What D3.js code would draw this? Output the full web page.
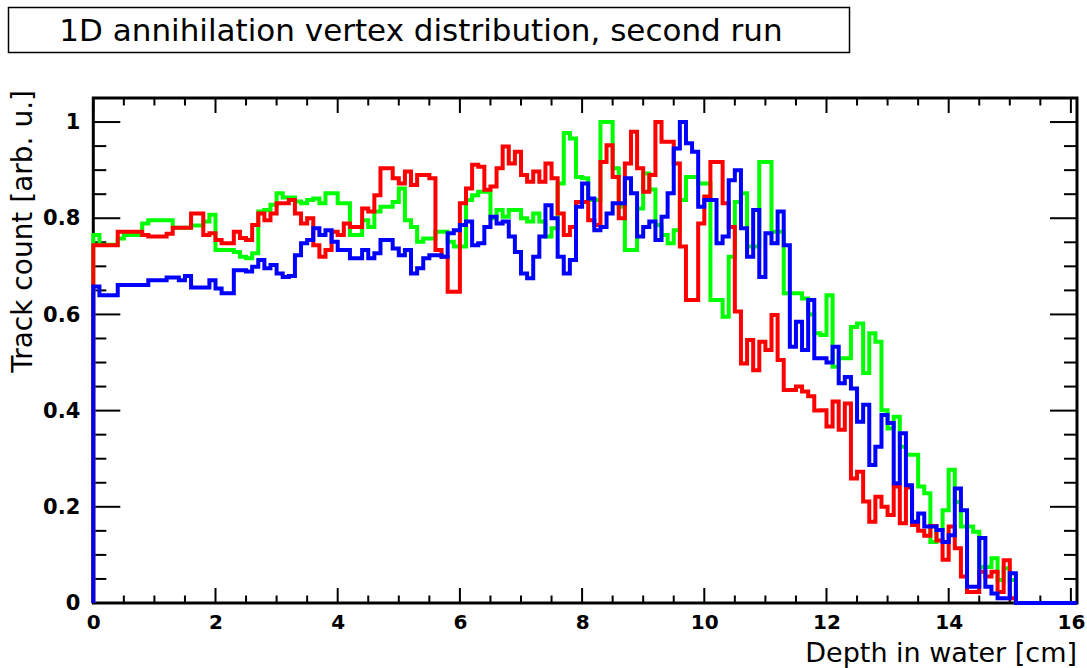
<!DOCTYPE html>
<html>
<head>
<meta charset="utf-8">
<script src="https://cdn.jsdelivr.net/npm/d3@7"></script>
<style>
  body { margin: 0; background: #fff; }
  text { font-family: "DejaVu Sans", sans-serif; }
</style>
</head>
<body>
<svg id="chart" width="1087" height="668"></svg>
<script>
// Histogram binning: 0.1 cm bins from 0 to 16.1 cm
const binWidth = 0.1;
const depthRange = [0, 16.1];

// Normalised track counts per bin (bins 0 .. 160)
const redCounts = [
  .744,.744,.744,.744,.772,.772,.772,.772,.765,.762,
  .762,.762,.768,.78,.78,.78,.81,.81,.765,.769,
  .755,.748,.748,.772,.759,.755,.786,.81,.796,.81,
  .831,.831,.838,.81,.789,.80,.744,.72,.734,.772,
  .765,.789,.782,.782,.82,.814,.848,.904,.904,.883,
  .872,.897,.869,.89,.89,.883,.734,.72,.647,.647,
  .831,.862,.911,.907,.859,.866,.904,.949,.914,.938,
  .89,.876,.897,.876,.914,.883,.81,.765,.782,.834,
  .834,.796,.786,.917,.952,.886,.80,.914,.98,.904,
  .855,.89,1.0,.959,.959,.914,.741,.63,.63,.789,
  .845,.917,.917,.831,.782,.606,.498,.547,.484,.543,
  .526,.599,.505,.443,.443,.45,.44,.43,.40,.401,
  .367,.419,.36,.415,.259,.273,.211,.169,.221,.20,
  .183,.242,.166,.24,.162,.15,.14,.16,.13,.09,
  .159,.114,.055,.023,.023,.065,.055,.065,.023,.089,
  .01,0,0,0,0,0,0,0,0,0,0
];
const greenCounts = [
  .765,.745,.745,.745,.758,.765,.765,.765,.789,.796,
  .796,.796,.796,.78,.78,.78,.785,.785,.793,.807,
  .734,.734,.734,.73,.72,.717,.727,.814,.817,.828,
  .852,.843,.843,.835,.831,.838,.841,.831,.852,.852,
  .831,.831,.765,.765,.796,.782,.814,.824,.824,.834,
  .862,.796,.782,.751,.758,.758,.772,.772,.751,.741,
  .741,.838,.848,.855,.855,.80,.817,.803,.817,.817,
  .80,.793,.81,.793,.762,.779,.872,.977,.966,.886,
  .883,.838,.838,1.0,1.0,.904,.824,.734,.734,.82,
  .893,.86,.786,.765,.748,.775,.838,.886,.886,.872,
  .872,.63,.63,.595,.72,.834,.852,.741,.741,.917,
  .917,.772,.772,.644,.644,.644,.633,.60,.561,.557,
  .64,.491,.509,.509,.574,.581,.478,.561,.543,.401,
  .363,.387,.325,.308,.308,.242,.228,.127,.152,.193,
  .277,.21,.159,.159,.148,.075,.075,.093,.048,.072,
  .048,0,0,0,0,0,0,0,0,0,0
];
const blueCounts = [
  .658,.64,.64,.64,.661,.661,.661,.661,.661,.671,
  .671,.671,.677,.677,.671,.68,.656,.656,.656,.671,
  .654,.644,.644,.692,.692,.689,.699,.713,.696,.703,
  .685,.678,.68,.723,.748,.755,.779,.765,.775,.751,
  .734,.734,.717,.717,.734,.717,.727,.755,.755,.737,
  .723,.734,.685,.696,.717,.723,.723,.72,.769,.775,
  .786,.793,.744,.748,.782,.803,.789,.793,.762,.73,
  .685,.675,.72,.762,.827,.80,.72,.685,.713,.824,
  .872,.841,.775,.782,.81,.831,.831,.883,.852,.762,
  .782,.793,.755,.803,.852,.945,1.0,.956,.938,.824,
  .838,.838,.748,.762,.879,.90,.779,.72,.817,.678,
  .769,.748,.814,.744,.533,.585,.526,.63,.509,.509,
  .50,.533,.457,.47,.446,.377,.412,.287,.325,.391,
  .374,.249,.353,.245,.169,.186,.159,.159,.152,.127,
  .141,.238,.193,.034,.034,.135,.034,.02,.01,.01,
  .062,0,0,0,0,0,0,0,0,0,0
];

const xTickValues = [0, 2, 4, 6, 8, 10, 12, 14, 16];
const yTickValues = [0, 0.2, 0.4, 0.6, 0.8, 1];
const titleText = "1D annihilation vertex distribution, second run";
const xTitle = "Depth in water [cm]";
const yTitle = "Track count [arb. u.]";

const series = [
  { name: "green", color: "#00ff00", values: greenCounts },
  { name: "red",   color: "#ff0000", values: redCounts },
  { name: "blue",  color: "#0000ff", values: blueCounts }
];

const svg = d3.select("#chart");
const frame = { left: 93.3, right: 1077, top: 98, bottom: 603 };

const x = d3.scaleLinear().domain(depthRange).range([frame.left, frame.right]);
const y = d3.scaleLinear().domain([0, 1.05]).range([frame.bottom, frame.top]);

// Title box
svg.append("rect")
  .attr("x", 8.5).attr("y", 7.5).attr("width", 841).attr("height", 45)
  .attr("fill", "#fff").attr("stroke", "#000").attr("stroke-width", 1.5);
svg.append("text")
  .attr("x", 421).attr("y", 41)
  .attr("text-anchor", "middle")
  .attr("font-size", 31)
  .text(titleText);

// Tick marks on all four sides of the frame
const ticks = svg.append("g").attr("stroke", "#000").attr("stroke-width", 2);
const xMinor = d3.range(0, 16.1 + 1e-9, 0.5);
xMinor.forEach(v => {
  const major = Math.abs(v / 2 - Math.round(v / 2)) < 1e-6;
  const len = major ? 15 : 7.5;
  ticks.append("line").attr("x1", x(v)).attr("x2", x(v))
    .attr("y1", frame.bottom).attr("y2", frame.bottom - len);
  ticks.append("line").attr("x1", x(v)).attr("x2", x(v))
    .attr("y1", frame.top).attr("y2", frame.top + len);
});
const yMinor = d3.range(0, 1.05 + 1e-9, 0.05);
yMinor.forEach(v => {
  const major = Math.abs(v / 0.2 - Math.round(v / 0.2)) < 1e-6;
  const len = major ? 27 : 13;
  ticks.append("line").attr("y1", y(v)).attr("y2", y(v))
    .attr("x1", frame.left).attr("x2", frame.left + len);
  ticks.append("line").attr("y1", y(v)).attr("y2", y(v))
    .attr("x1", frame.right).attr("x2", frame.right - len);
});

// Frame
svg.append("rect")
  .attr("x", frame.left).attr("y", frame.top)
  .attr("width", frame.right - frame.left).attr("height", frame.bottom - frame.top)
  .attr("fill", "none").attr("stroke", "#000").attr("stroke-width", 3);

// Axis tick labels
const xAxis = d3.axisBottom(x).tickValues(xTickValues).tickSize(0).tickPadding(12)
  .tickFormat(d3.format("d"));
const gx = svg.append("g").attr("transform", `translate(0,${frame.bottom})`).call(xAxis);
gx.select(".domain").remove();
gx.selectAll("text").attr("font-size", 20).attr("font-weight", "bold")
  .attr("font-family", "DejaVu Sans").attr("fill", "#000");

const yAxis = d3.axisLeft(y).tickValues(yTickValues).tickSize(0).tickPadding(13)
  .tickFormat(d => d === 0 || d === 1 ? d3.format("d")(d) : d3.format(".1f")(d));
const gy = svg.append("g").attr("transform", `translate(${frame.left},0)`).call(yAxis);
gy.select(".domain").remove();
gy.selectAll("text").attr("font-size", 21).attr("font-weight", "bold")
  .attr("font-family", "DejaVu Sans").attr("fill", "#000");

// Axis titles
svg.append("text")
  .attr("x", frame.right).attr("y", 662)
  .attr("text-anchor", "end").attr("font-size", 27)
  .text(xTitle);
svg.append("text")
  .attr("transform", `translate(32,${90}) rotate(-90)`)
  .attr("text-anchor", "end").attr("font-size", 28)
  .text(yTitle);

// Histograms drawn as step outlines
const stepLine = d3.line()
  .x(d => x(d[0]))
  .y(d => y(d[1]))
  .curve(d3.curveStepAfter);

series.forEach(s => {
  const n = s.values.length;
  const pts = [[0, 0]];
  s.values.forEach((v, i) => pts.push([i * binWidth, v]));
  pts.push([Math.min(n * binWidth, depthRange[1]), s.values[n - 1]]);
  svg.append("path")
    .datum(pts)
    .attr("fill", "none")
    .attr("stroke", s.color)
    .attr("stroke-width", 4)
    .attr("stroke-linejoin", "miter")
    .attr("d", stepLine);
});
</script>
</body>
</html>
